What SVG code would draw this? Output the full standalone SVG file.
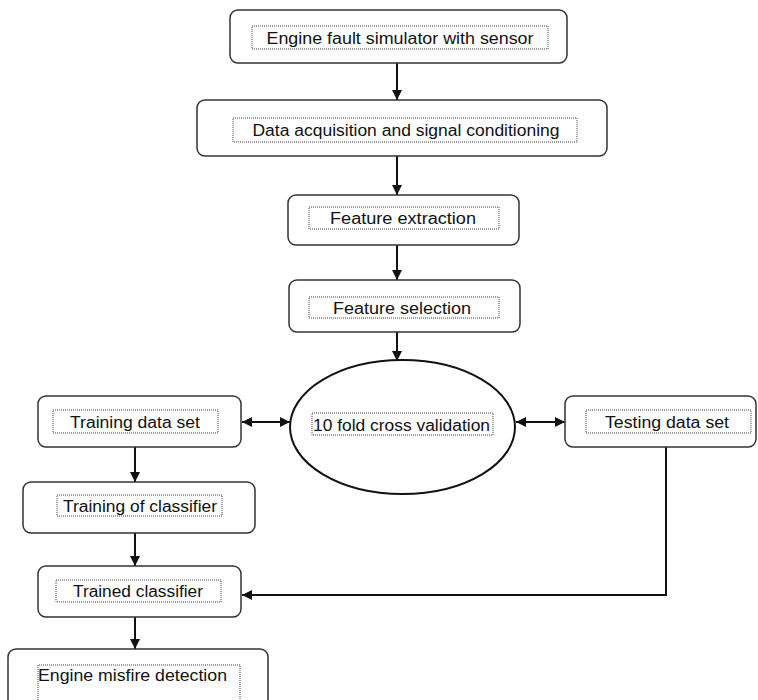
<svg xmlns="http://www.w3.org/2000/svg" width="758" height="700" viewBox="0 0 758 700">
<style>
.box{fill:#fff;stroke:#333;stroke-width:1.5}
.inner{fill:none;stroke:#444;stroke-width:1;stroke-dasharray:1 1}
.lbl{font-family:"Liberation Sans",Arial,sans-serif;font-size:16px;fill:#111;text-anchor:middle}
.con{fill:none;stroke:#111;stroke-width:2}
</style>
<defs>
<marker id="ah" viewBox="0 0 10 10" refX="10" refY="5" markerWidth="10" markerHeight="10" markerUnits="userSpaceOnUse" orient="auto-start-reverse">
<path d="M0,0 L10,5 L0,10 z" fill="#111"/>
</marker>
</defs>
<rect width="758" height="700" fill="#fff"/>
<g id="connectors">
<line class="con" x1="397" y1="63" x2="397" y2="100" marker-end="url(#ah)"/>
<line class="con" x1="397" y1="156" x2="397" y2="195" marker-end="url(#ah)"/>
<line class="con" x1="397" y1="245" x2="397" y2="280" marker-end="url(#ah)"/>
<line class="con" x1="397" y1="332" x2="397" y2="361" marker-end="url(#ah)"/>
<line class="con" x1="242" y1="422" x2="290" y2="422" marker-start="url(#ah)" marker-end="url(#ah)"/>
<line class="con" x1="516" y1="422" x2="565" y2="422" marker-start="url(#ah)" marker-end="url(#ah)"/>
<line class="con" x1="135" y1="447" x2="135" y2="482" marker-end="url(#ah)"/>
<line class="con" x1="135" y1="533" x2="135" y2="566" marker-end="url(#ah)"/>
<line class="con" x1="135" y1="617" x2="135" y2="649" marker-end="url(#ah)"/>
<polyline class="con" points="666,447 666,595 242,595" marker-end="url(#ah)"/>
</g>
<g id="n1">
<rect class="box" x="230" y="10" width="337" height="53" rx="8"/>
<rect class="inner" x="252" y="26" width="296" height="23"/>
<text class="lbl" x="400" y="44" textLength="267" lengthAdjust="spacingAndGlyphs">Engine fault simulator with sensor</text>
</g>
<g id="n2">
<rect class="box" x="197" y="100" width="410" height="56" rx="8"/>
<rect class="inner" x="233" y="118" width="344" height="24"/>
<text class="lbl" x="406" y="136" textLength="307" lengthAdjust="spacingAndGlyphs">Data acquisition and signal conditioning</text>
</g>
<g id="n3">
<rect class="box" x="288" y="195" width="231" height="50" rx="8"/>
<rect class="inner" x="309" y="207" width="190" height="22"/>
<text class="lbl" x="403" y="224" textLength="146" lengthAdjust="spacingAndGlyphs">Feature extraction</text>
</g>
<g id="n4">
<rect class="box" x="289" y="280" width="231" height="52" rx="8"/>
<rect class="inner" x="309" y="297" width="190" height="21"/>
<text class="lbl" x="402" y="314" textLength="138" lengthAdjust="spacingAndGlyphs">Feature selection</text>
</g>
<g id="n5">
<ellipse cx="402.5" cy="427" rx="112.5" ry="67" fill="#fff" stroke="#111" stroke-width="2"/>
<rect class="inner" x="312" y="413" width="181" height="22"/>
<text class="lbl" x="401.5" y="431" textLength="177" lengthAdjust="spacingAndGlyphs">10 fold cross validation</text>
</g>
<g id="n6">
<rect class="box" x="38" y="396" width="203" height="51" rx="8"/>
<rect class="inner" x="53" y="410" width="165" height="23"/>
<text class="lbl" x="135" y="428" textLength="130" lengthAdjust="spacingAndGlyphs">Training data set</text>
</g>
<g id="n7">
<rect class="box" x="565" y="396" width="191" height="51" rx="8"/>
<rect class="inner" x="586" y="410" width="165" height="23"/>
<text class="lbl" x="667" y="428" textLength="124" lengthAdjust="spacingAndGlyphs">Testing data set</text>
</g>
<g id="n8">
<rect class="box" x="23" y="482" width="232" height="51" rx="8"/>
<rect class="inner" x="57" y="495" width="165" height="21"/>
<text class="lbl" x="140" y="512" textLength="154" lengthAdjust="spacingAndGlyphs">Training of classifier</text>
</g>
<g id="n9">
<rect class="box" x="38" y="566" width="203" height="51" rx="8"/>
<rect class="inner" x="56" y="580" width="165" height="22"/>
<text class="lbl" x="138" y="597" textLength="130" lengthAdjust="spacingAndGlyphs">Trained classifier</text>
</g>
<g id="n10">
<rect class="box" x="8" y="649" width="260" height="60" rx="8"/>
<path class="inner" d="M38,700 V665 H240 V700"/>
<text class="lbl" x="132.5" y="681" textLength="189" lengthAdjust="spacingAndGlyphs">Engine misfire detection</text>
</g>
</svg>
